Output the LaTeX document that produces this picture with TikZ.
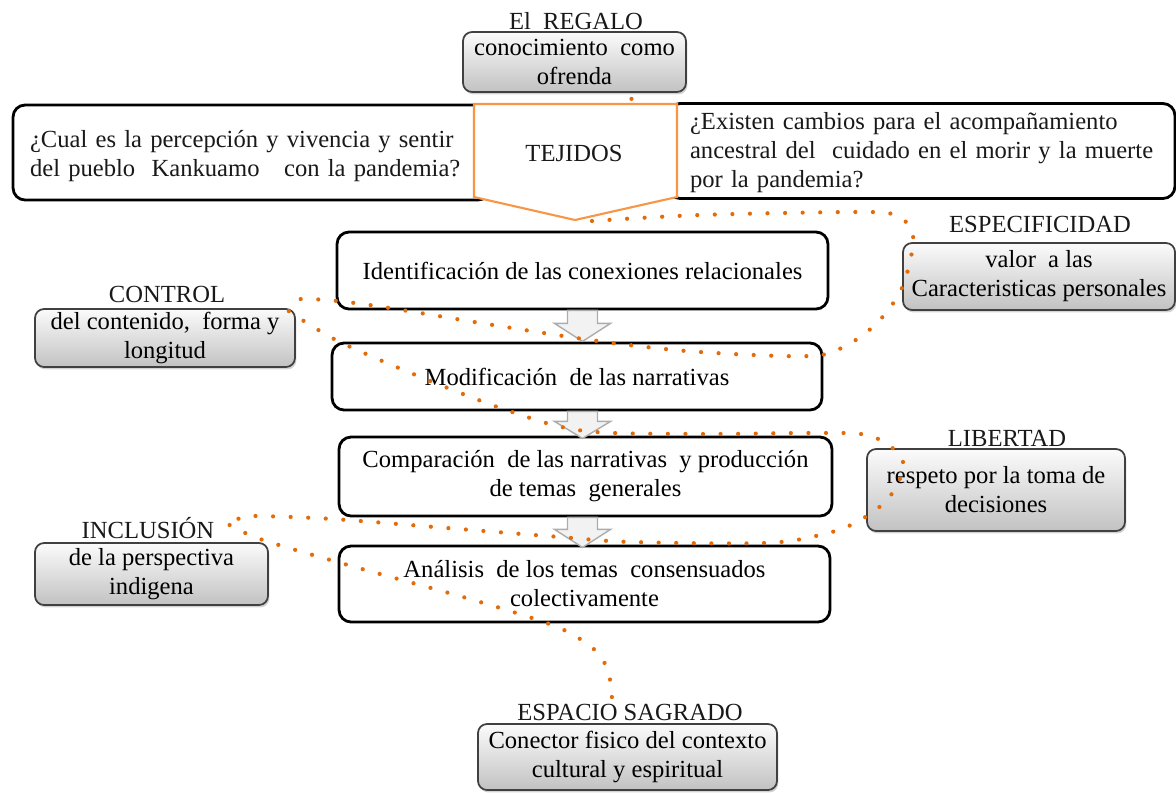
\documentclass[tikz,border=0pt]{standalone}
\usepackage{fontspec}
\setmainfont{Liberation Serif}
\usetikzlibrary{calc,shadows}
\definecolor{dotorange}{HTML}{E36C0A}
\definecolor{tejorange}{HTML}{F79646}
\definecolor{boxgray}{HTML}{404040}

\begin{document}
\begin{tikzpicture}[x=0.02cm, y=-0.02cm, font=\fontsize{14}{16.5}\selectfont,
	askbox/.style={draw, line width=1.6pt, rounded corners=0.24cm, fill=white, inner sep=0pt},
	stepbox/.style={draw, line width=1.6pt, rounded corners=0.24cm, fill=white, align=center},
	giftbox/.style={draw=boxgray, line width=1pt, rounded corners=0.18cm, top color=gray!3, bottom color=gray!48,
		drop shadow={shadow xshift=0.8pt, shadow yshift=-1.4pt, opacity=0.35}, align=center, inner sep=0pt},
	tag/.style={inner sep=0pt, text=black!90},
	tejline/.style={draw=tejorange, line width=1.2pt, fill=white},
	hollowarrow/.style={draw=gray!65, fill=gray!10, line width=0.8pt, line join=miter},
	dotline/.style={dotorange, line width=2.4pt, line cap=round, dash pattern=on 0pt off 10pt}]
\useasboundingbox (0,0) rectangle (1176,792);

% preguntas
\node[askbox, minimum width=9.54cm, minimum height=1.9cm] (ask left) at (251.5,152.5) {}; % left question
\node[tag, text width=8.66cm, align=left] (ask left text) at (246.5,156) {\makebox[8.66cm][s]{¿Cual es la percepción y vivencia y sentir}\\del pueblo\ \ Kankuamo\ \ \ con la pandemia?};
\node[askbox, minimum width=10.14cm, minimum height=1.9cm] (ask right) at (921.5,151) {}; % right question
\node[tag, text width=9.34cm, align=left] (ask right text) at (923.5,153) {\makebox[9.34cm][s]{¿Existen cambios para el acompañamiento}\\\makebox[9.34cm][s]{ancestral del\ \ cuidado en el morir y la muerte}\\por la pandemia?};

% tejidos
\coordinate (tej tip) at (575,220);
\draw[tejline] (474,104) -- (677,104) -- (677,197) -- (tej tip) -- (474,197) -- cycle;
\node[tag] (tejidos) at (574,153) {TEJIDOS};

% regalo
\node[tag] (regalo label) at (576,21) {El\ \ REGALO};
\node[giftbox, minimum width=4.46cm, minimum height=1.2cm] (regalo) at (574.5,62) {conocimiento\ \ como\\ofrenda};

% pasos
\node[stepbox, minimum width=9.82cm, minimum height=1.54cm] (b1) at (582.5,270.5) {Identificación de las conexiones relacionales};
\node[stepbox, minimum width=9.8cm, minimum height=1.34cm] (b2) at (577,376.5) {Modificación\ \ de las narrativas};
\node[stepbox, minimum width=9.86cm, minimum height=1.58cm] (b3) at (585.5,476.5) {Comparación\ \ de las narrativas\ \ y producción\\de temas\ \ generales};
\node[stepbox, minimum width=9.82cm, minimum height=1.52cm] (b4) at (584.5,584) {Análisis\ \ de los temas\ \ consensuados\\colectivamente};

\draw[hollowarrow] (b1.south) ++(-15,0) -- ++(30,0) -- ++(0,13) -- ++(13,0) -- ++(-28,18) -- ++(-28,-18) -- ++(13,0) -- cycle;
\draw[hollowarrow] (b2.south -| b1.south) ++(-15,0) -- ++(30,0) -- ++(0,10) -- ++(13,0) -- ++(-28,17) -- ++(-28,-17) -- ++(13,0) -- cycle;
\draw[hollowarrow] (b3.south -| b1.south) ++(-15,0) -- ++(30,0) -- ++(0,12) -- ++(13,0) -- ++(-28,18) -- ++(-28,-18) -- ++(13,0) -- cycle;

% principios
\node[tag] (control label) at (167,294) {CONTROL};
\node[giftbox, minimum width=5.2cm, minimum height=1.16cm] (control) at (165,338) {del contenido,\ \ forma y\\longitud};
\node[tag] (espec label) at (1040,224) {ESPECIFICIDAD};
\node[giftbox, minimum width=5.44cm, minimum height=1.34cm] (espec) at (1039,276.5) {valor\ \ a las\\Caracteristicas personales};
\node[tag] (libertad label) at (1007,438) {LIBERTAD};
\node[giftbox, minimum width=5.16cm, minimum height=1.64cm] (libertad) at (996,490) {respeto por la toma de\\decisiones};
\node[tag] (inclusion label) at (148,528) {INCLUSIÓN};
\node[giftbox, minimum width=4.66cm, minimum height=1.24cm] (inclusion) at (151.5,574) {de la perspectiva\\indigena};
\node[tag] (espacio label) at (630,712) {ESPACIO SAGRADO};
\node[giftbox, minimum width=5.98cm, minimum height=1.32cm] (espacio) at (627.5,757) {Conector fisico del contexto\\cultural y espiritual};

% hilos
\coordinate (b start) at ($(tej tip)+(17,1)$);
\coordinate (b end) at ($(control label.east)+(62,5)$);
\coordinate (c start) at ($(control.north east)+(-7,3)$);
\coordinate (c end) at ($(inclusion label.east)+(15,-3)$);
\coordinate (d end) at ($(espacio label.north)+(-18,-4)$);
\draw[dotline] ($(regalo.south)+(57,6)$) -- ++(0,1);
\draw[dotline] plot[smooth, tension=0.55] coordinates {(b start) (700,215) (857,212) (895,215) (912,231) (911,257) (900,292) (877,323) (847,345) (810,356) (700,352) (605,342) (493,325) (383,307) (327,300) (b end)};
\draw[dotline] plot[smooth, tension=0.55] coordinates {(c start) (338,341) (423,378) (512,412) (585,431) (700,434) (810,433) (867,435) (897,452) (903,470) (887,500) (855,523) (820,535) (765,543) (632,542) (560,537) (447,528) (333,519) (258,516) (242,517) (c end)};
\draw[dotline] plot[smooth, tension=0.55] coordinates {(c end) (263,540) (355,567) (463,597) (535,619) (570,633) (598,653) (609,675) (d end)};

\end{tikzpicture}
\end{document}
